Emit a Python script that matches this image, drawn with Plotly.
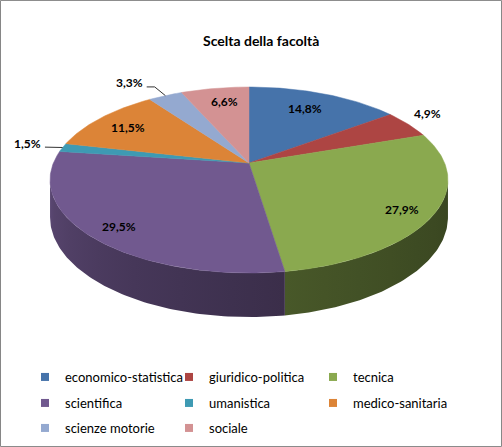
import numpy as np
import plotly.graph_objects as go

categories = ["economico-statistica", "giuridico-politica", "tecnica", "scientifica",
              "umanistica", "medico-sanitaria", "scienze motorie", "sociale"]
percent = [14.8, 4.9, 27.9, 29.5, 1.5, 11.5, 3.3, 6.6]
title = "Scelta della facoltà"

colors = ["#4673AA", "#AD4543", "#8AA94F", "#71598F",
          "#3E9AB3", "#DC8437", "#94A9D0", "#D39293"]
# label placement (radius factor, angle nudge in degrees) - Excel "best fit" look
label_r = [0.76, 1.19, 0.86, 0.86, 1.2, 0.79, 1.29, 0.79]
label_dt = [-1.5, -3.4, 2.5, -1.2, 0.8, -1.5, -4.7, 1.6]
leader = [False, False, False, False, True, False, True, False]

# tilted pie geometry (pixel space)
CX, CY = 249, 163
A, B, K = 195.6, 89.9, 0.183
H = 36
FONT = "Lato"


def proj(theta, r=1.0):
    t = np.radians(theta)
    X, Z = r * np.sin(t), r * np.cos(t)
    w = 1 + K * Z
    return CX + A * X / w, CY - B * Z / w


def drop(theta):
    return H / (1 + K * np.cos(np.radians(theta)))


def shade(hexcol, theta):
    f = 0.42 + 0.38 * np.clip((theta - 100) / 160, 0, 1) ** 1.6
    r, g, b = (int(hexcol[i:i + 2], 16) for i in (1, 3, 5))
    return "rgb(%d,%d,%d)" % (r * f, g * f, b * f)


total = sum(percent)
ends = np.cumsum(percent) / total * 360
starts = ends - np.array(percent) / total * 360

fig = go.Figure()

# side wall (only the front part between the silhouette points is visible)
lo, hi = 100.5, 259.5
for i in range(len(percent)):
    a0, a1 = max(starts[i], lo), min(ends[i], hi)
    if a1 <= a0:
        continue
    ts = np.linspace(a0, a1, int(a1 - a0) + 3)
    xt, yt = proj(ts)
    xb, yb = xt[::-1], (yt + drop(ts))[::-1]
    # horizontal gradient: sample the shade along the arc, sorted by x
    order = np.argsort(xt)
    xn = (xt[order] - xt.min()) / (xt.max() - xt.min())
    picks = np.unique(np.linspace(0, len(ts) - 1, 8).astype(int))
    cscale = [[float(xn[j]), shade(colors[i], ts[order][j])] for j in picks]
    cscale[0][0], cscale[-1][0] = 0.0, 1.0
    fig.add_trace(go.Scatter(
        x=list(xt) + list(xb), y=list(yt) + list(yb), fill="toself",
        fillgradient=dict(type="horizontal", colorscale=cscale),
        mode="lines", line=dict(width=0), showlegend=False, hoverinfo="skip"))

# top faces
for i in range(len(percent)):
    ts = np.linspace(starts[i], ends[i], int(ends[i] - starts[i]) + 3)
    xt, yt = proj(ts)
    fig.add_trace(go.Scatter(
        x=[CX] + list(xt) + [CX], y=[CY] + list(yt) + [CY], fill="toself",
        fillcolor=colors[i], mode="lines", line=dict(color=colors[i], width=0.5),
        showlegend=False, hoverinfo="text",
        text="%s: %s%%" % (categories[i], ("%.1f" % percent[i]).replace(".", ","))))

# data labels + leader lines
annotations = []
for i, v in enumerate(percent):
    mid = (starts[i] + ends[i]) / 2
    lx, ly = proj(mid + label_dt[i], label_r[i])
    annotations.append(dict(
        x=lx, y=ly, xref="x", yref="y", showarrow=False,
        text="<b>%s%%</b>" % ("%.1f" % v).replace(".", ","),
        font=dict(family=FONT, size=12, color="black")))
    if leader[i]:
        ex, ey = proj(mid)
        fig.add_trace(go.Scatter(
            x=[lx + 17, lx + 25, ex], y=[ly + 4, ly + 4, ey], mode="lines",
            line=dict(color="#333333", width=1), showlegend=False, hoverinfo="skip"))

annotations.append(dict(
    x=261, y=40, xref="x", yref="y", showarrow=False, text="<b>%s</b>" % title,
    font=dict(family=FONT, size=14, color="black")))

# legend: three rows of three columns
rows = [(0, 3, "legend", 377), (3, 6, "legend2", 403), (6, 8, "legend3", 428)]
legends = {}
for a, b, name, ypix in rows:
    for i in range(a, b):
        fig.add_trace(go.Scatter(
            x=[None], y=[None], mode="markers", name=categories[i], legend=name,
            marker=dict(symbol="square", size=8, color=colors[i])))
    legends[name] = dict(
        orientation="h", x=25 / 502, xanchor="left", y=1 - ypix / 447, yanchor="middle",
        entrywidth=99, entrywidthmode="pixels", bgcolor="rgba(0,0,0,0)",
        font=dict(family=FONT, size=13, color="black"), itemclick=False)

fig.update_layout(
    width=502, height=447, margin=dict(l=0, r=0, t=0, b=0),
    paper_bgcolor="white", plot_bgcolor="white",
    xaxis=dict(range=[0, 502], visible=False, fixedrange=True),
    yaxis=dict(range=[447, 0], visible=False, fixedrange=True),
    annotations=annotations,
    shapes=[dict(type="rect", xref="paper", yref="paper", x0=0.001, y0=0.001,
                 x1=0.999, y1=0.999, line=dict(color="#868686", width=1))],
    **legends)

fig.write_html("out.html", config={"displayModeBar": False},
               post_script="document.body.style.margin='0';")
